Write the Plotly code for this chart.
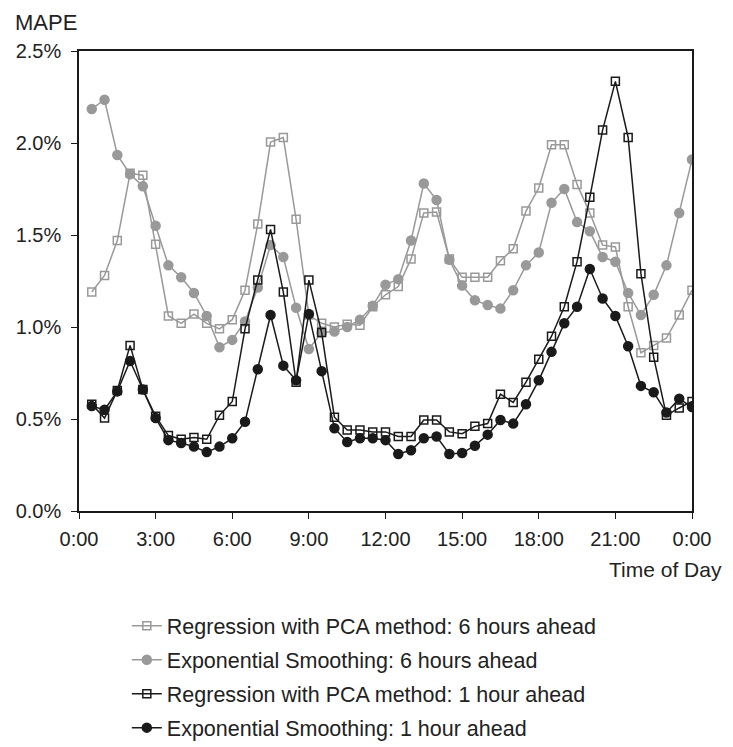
import plotly.graph_objects as go

# Time of day in hours (half-hour steps, 0:30 ... 24:00)
hours = [0.5 * k for k in range(1, 49)]

reg_pca_6h = [1.19, 1.28, 1.47, 1.835, 1.825, 1.45, 1.06, 1.02, 1.07, 1.02, 0.99, 1.04,
              1.20, 1.56, 2.005, 2.03, 1.585, 1.065, 1.02, 1.00, 1.015, 1.01, 1.11, 1.175,
              1.22, 1.37, 1.62, 1.625, 1.37, 1.27, 1.27, 1.27, 1.36, 1.425, 1.63, 1.755,
              1.99, 1.99, 1.775, 1.62, 1.445, 1.435, 1.11, 0.86, 0.90, 0.94, 1.065, 1.20]

exp_smooth_6h = [2.185, 2.235, 1.935, 1.83, 1.765, 1.55, 1.335, 1.27, 1.185, 1.06, 0.89, 0.93,
                 1.03, 1.215, 1.445, 1.38, 1.105, 0.88, 0.97, 0.975, 1.00, 1.04, 1.115, 1.23,
                 1.26, 1.47, 1.78, 1.69, 1.365, 1.225, 1.145, 1.12, 1.10, 1.20, 1.335, 1.405,
                 1.675, 1.75, 1.57, 1.52, 1.38, 1.355, 1.185, 1.065, 1.175, 1.335, 1.62, 1.91]

reg_pca_1h = [0.58, 0.505, 0.655, 0.90, 0.66, 0.515, 0.41, 0.39, 0.40, 0.39, 0.52, 0.595,
              0.99, 1.255, 1.53, 1.19, 0.70, 1.255, 0.97, 0.51, 0.44, 0.44, 0.43, 0.43,
              0.405, 0.405, 0.495, 0.495, 0.43, 0.42, 0.46, 0.475, 0.635, 0.59, 0.70, 0.825,
              0.95, 1.11, 1.355, 1.705, 2.07, 2.335, 2.03, 1.29, 0.835, 0.52, 0.56, 0.595]

exp_smooth_1h = [0.57, 0.55, 0.65, 0.815, 0.66, 0.505, 0.385, 0.37, 0.35, 0.32, 0.35, 0.395,
                 0.485, 0.77, 1.065, 0.79, 0.71, 1.07, 0.76, 0.45, 0.375, 0.395, 0.395, 0.385,
                 0.31, 0.33, 0.395, 0.405, 0.31, 0.315, 0.355, 0.415, 0.495, 0.475, 0.58, 0.71,
                 0.865, 1.02, 1.11, 1.315, 1.155, 1.06, 0.895, 0.68, 0.645, 0.535, 0.61, 0.565]

x_tickvals = [0, 3, 6, 9, 12, 15, 18, 21, 24]
x_ticktext = ["0:00", "3:00", "6:00", "9:00", "12:00", "15:00", "18:00", "21:00", "0:00"]
y_tickvals = [0, 0.5, 1.0, 1.5, 2.0, 2.5]
y_ticktext = ["0.0%", "0.5%", "1.0%", "1.5%", "2.0%", "2.5%"]

GRAY = "#999999"
BLACK = "#1a1a1a"
TEXT = "#222222"
FONT = "Liberation Sans, Arial, sans-serif"

series = [
    ("Regression with PCA method: 6 hours ahead", reg_pca_6h, GRAY, "square-open", 8),
    ("Exponential Smoothing: 6 hours ahead", exp_smooth_6h, GRAY, "circle", 9),
    ("Regression with PCA method: 1 hour ahead", reg_pca_1h, BLACK, "square-open", 8),
    ("Exponential Smoothing: 1 hour ahead", exp_smooth_1h, BLACK, "circle", 9),
]

fig = go.Figure()
for i, (name, vals, col, sym, sz) in enumerate(series):
    fig.add_trace(go.Scatter(
        x=hours, y=vals, name=name, mode="lines+markers",
        line=dict(color=col, width=1.5),
        marker=dict(symbol=sym, size=sz, color=col,
                    line=dict(color=col, width=1.5)),
        legendgroup=f"g{i}",
    ))

fig.update_layout(
    width=733, height=747,
    margin=dict(l=79, r=41, t=51, b=236, autoexpand=False),
    paper_bgcolor="white", plot_bgcolor="white",
    font=dict(family=FONT, size=20, color=TEXT),
    showlegend=True,
    legend=dict(
        x=0.078, y=-0.205, xanchor="left", yanchor="top",
        orientation="v", traceorder="grouped", tracegroupgap=3,
        font=dict(size=21.5, color=TEXT),
        bgcolor="rgba(0,0,0,0)",
    ),
    xaxis=dict(
        range=[0, 24], tickvals=x_tickvals, ticktext=x_ticktext,
        showgrid=False, zeroline=False,
        showline=True, linecolor=BLACK, linewidth=1.5, mirror=True,
        ticks="outside", ticklen=6, tickcolor=BLACK, tickwidth=1,
        ticklabelstandoff=3,
    ),
    yaxis=dict(
        range=[0, 2.5], tickvals=y_tickvals, ticktext=y_ticktext,
        showgrid=False, zeroline=False,
        showline=True, linecolor=BLACK, linewidth=1.5, mirror=True,
        ticks="outside", ticklen=6, tickcolor=BLACK, tickwidth=1,
        ticklabelstandoff=6,
    ),
    annotations=[
        dict(text="MAPE", xref="paper", yref="paper", x=-0.108, y=1.061,
             xanchor="left", yanchor="middle", showarrow=False,
             font=dict(size=22, family=FONT, color=TEXT)),
        dict(text="Time of Day", xref="paper", yref="paper", x=1.052, y=-0.128,
             xanchor="right", yanchor="middle", showarrow=False,
             font=dict(size=21, family=FONT, color=TEXT)),
    ],
)

fig.write_html(
    "out.html",
    config={"displayModeBar": False},
    post_script="document.body.style.margin='0';document.body.style.overflow='hidden';",
)
